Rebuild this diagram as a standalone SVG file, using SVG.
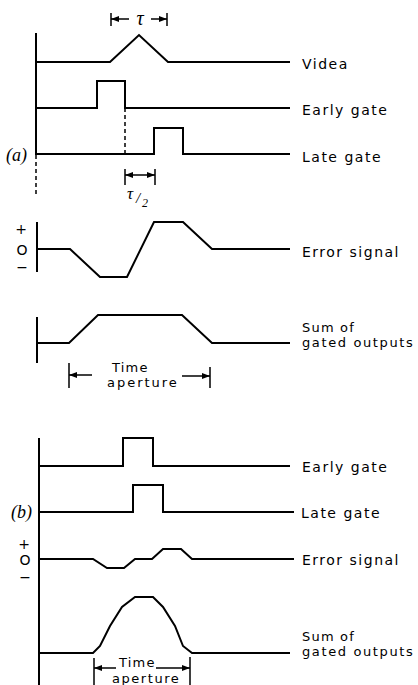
<svg xmlns="http://www.w3.org/2000/svg" width="418" height="685" viewBox="0 0 418 685">
<defs>
<style>
.w{fill:none;stroke:#000;stroke-width:2;stroke-linejoin:miter}
.t{fill:none;stroke:#000;stroke-width:1.5}
.d{fill:none;stroke:#000;stroke-width:1.5;stroke-dasharray:4 3}
.lb{font-family:"DejaVu Sans",sans-serif;font-size:14px;letter-spacing:1.5px;fill:#000}
.l2{font-family:"DejaVu Sans",sans-serif;font-size:13px;letter-spacing:1.2px;fill:#000}
.sm{font-family:"DejaVu Sans",sans-serif;font-size:13px;letter-spacing:1.2px;fill:#000}
.gr{font-family:"Liberation Serif",serif;font-style:italic;fill:#000}
.pm{font-family:"DejaVu Sans",sans-serif;font-size:14px;fill:#000}
</style>
<marker id="ah" viewBox="0 0 8 6" refX="8" refY="3" markerWidth="8" markerHeight="6" markerUnits="userSpaceOnUse" orient="auto">
<path d="M0,0 L8,3 L0,6 Z" fill="#000"/>
</marker>
</defs>

<g id="part-a">
<g id="axis-a">
<path class="w" d="M36,33 V155"/>
<path class="d" d="M36,155 V195"/>
<text class="gr" x="6" y="161" font-size="18">(a)</text>
</g>

<g id="video">
<path class="w" d="M36,62 H110 L139,35 L168,62 H290"/>
<text class="lb" x="302" y="69">Videa</text>
</g>

<g id="early-gate-a">
<path class="w" d="M36,108 H97 V81 H125 V108 H290"/>
<path class="d" d="M125,108 V156"/>
<text class="lb" x="302" y="115">Early gate</text>
</g>

<g id="late-gate-a">
<path class="w" d="M36,154 H154 V128 H183 V154 H290"/>
<text class="lb" x="302" y="162">Late gate</text>
</g>

<g id="error-a">
<path class="w" d="M37,222 V272"/>
<text class="pm" x="21" y="234" text-anchor="middle">+</text>
<text class="pm" x="22" y="255" text-anchor="middle">O</text>
<text class="pm" x="22" y="272" text-anchor="middle">−</text>
<path class="w" d="M37,249 H70 L100,277 H127 L154,222 H183 L212,249 H290"/>
<text class="lb" x="302" y="257">Error signal</text>
</g>

<g id="sum-a">
<path class="w" d="M37,317 V363"/>
<path class="w" d="M37,343 H69 L98,315 H182 L212,343 H290"/>
<text class="l2" x="302" y="332">Sum of</text>
<text class="l2" x="302" y="347" textLength="112" lengthAdjust="spacing">gated outputs</text>
</g>
</g>

<g id="part-b">
<g id="axis-b">
<path class="w" d="M39,438 V685"/>
<text class="gr" x="11" y="518" font-size="18">(b)</text>
</g>

<g id="early-gate-b">
<path class="w" d="M39,466 H123 V438 H153 V466 H290"/>
<text class="lb" x="302" y="472">Early gate</text>
</g>

<g id="late-gate-b">
<path class="w" d="M39,512 H133 V485 H163 V512 H294"/>
<text class="lb" x="301" y="518">Late gate</text>
</g>

<g id="error-b">
<text class="pm" x="24" y="549" font-size="13" text-anchor="middle">+</text>
<text class="pm" x="25" y="565" font-size="13" text-anchor="middle">O</text>
<text class="pm" x="25" y="582" font-size="13" text-anchor="middle">−</text>
<path class="w" d="M39,559 H93 L107,568 H124 L135,559 H152 L163,549 H181 L192,559 H294"/>
<text class="lb" x="302" y="565">Error signal</text>
</g>

<g id="sum-b">
<polyline class="w" points="39,653 93,653 100,646 110,626 122,607 135,597 153,597 163,607 175,626 183,646 192,653 290,653"/>
<text class="l2" x="302" y="641">Sum of</text>
<text class="l2" x="302" y="656" textLength="112" lengthAdjust="spacing">gated outputs</text>
</g>
</g>

<g id="connectors">
<g id="tau">
<path class="t" d="M111,13 V26 M167,13 V26"/>
<path class="t" d="M129,19 H111" marker-end="url(#ah)"/>
<path class="t" d="M151,19 H167" marker-end="url(#ah)"/>
<text class="gr" x="140" y="25" font-size="20" text-anchor="middle">τ</text>
</g>
<g id="tau-half">
<path class="t" d="M125,169 V185 M155,169 V185"/>
<path class="t" d="M140,175 H125" marker-end="url(#ah)"/>
<path class="t" d="M140,175 H155" marker-end="url(#ah)"/>
<text class="gr" x="127" y="199" font-size="17">τ</text>
<text class="gr" x="136" y="203" font-size="15">/</text>
<text class="gr" x="142" y="207" font-size="12">2</text>
</g>
<g id="aperture-a">
<path class="t" d="M69,363 V388 M210,367 V388"/>
<path class="t" d="M92,375 H69" marker-end="url(#ah)"/>
<path class="t" d="M182,376 H210" marker-end="url(#ah)"/>
<text class="sm" x="112" y="372">Time</text>
<text class="sm" x="107" y="387" textLength="71" lengthAdjust="spacing">aperture</text>
</g>
<g id="aperture-b">
<path class="t" d="M94,658 V685 M190,657 V685"/>
<path class="t" d="M116,668 H94" marker-end="url(#ah)"/>
<path class="t" d="M156,668 H190" marker-end="url(#ah)"/>
<text class="sm" x="119" y="667" font-size="12">Time</text>
<text class="sm" x="112" y="683" font-size="11" textLength="68" lengthAdjust="spacing">aperture</text>
</g>
</g>
</svg>
